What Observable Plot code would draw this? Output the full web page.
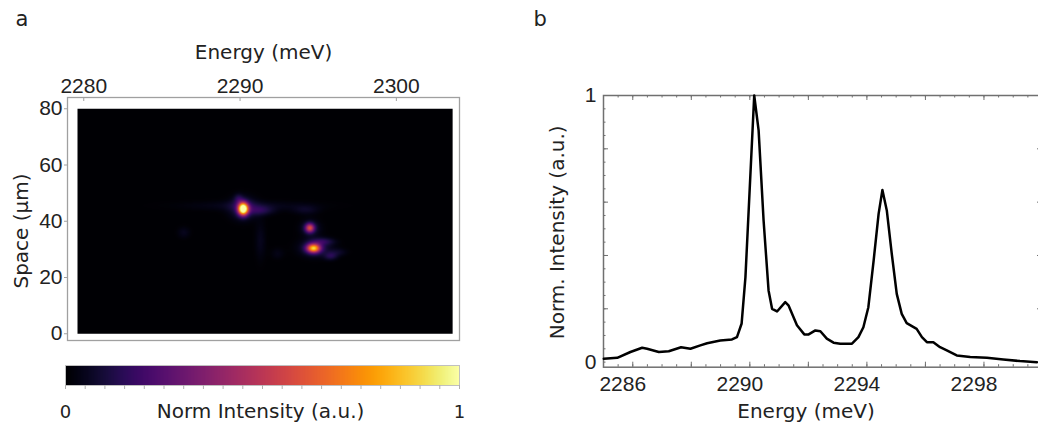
<!DOCTYPE html>
<html><head><meta charset="utf-8">
<script src="https://cdn.jsdelivr.net/npm/d3@7"></script>
<script src="https://cdn.jsdelivr.net/npm/@observablehq/plot@0.6"></script>
<style>
html,body{margin:0;padding:0;background:#fff;overflow:hidden;}
#root{position:relative;width:1038px;height:427px;overflow:hidden;background:#fff;}
#root > svg{position:absolute;}
</style></head><body><div id="root"></div>
<script>
// ---------- Panel a: spectral image (emission spots) ----------
const heatTicksX = [2280, 2290, 2300];
const heatTicksY = [0, 20, 40, 60, 80];
const heatExtentE = [2279.6, 2303.6];
const heatExtentS = [0, 80];
const spotEnergy = [2290.2, 2290.2, 2291.3, 2290.5, 2294.46, 2294.5, 2294.7, 2294.8, 2295.3, 2295.8, 2296.3, 2291.3, 2289.9, 2286.4, 2294.2, 2292.4];
const spotSpace  = [44.4, 44.6, 43.8, 45.5, 37.6, 37.6, 30.4, 30.5, 32.8, 27.6, 29.0, 33.0, 48.0, 36.0, 44.0, 28.5];
const spotWidthE = [0.22, 0.6, 0.6, 3.0, 0.2, 0.45, 0.3, 0.7, 0.5, 0.3, 0.4, 0.25, 0.2, 0.3, 0.6, 0.3];
const spotWidthS = [1.5, 2.8, 1.2, 1.3, 1.1, 2.0, 1.1, 2.2, 0.9, 1.0, 1.0, 5.0, 1.2, 1.5, 1.2, 1.5];
const spotAmp    = [1.15, 0.14, 0.12, 0.05, 0.5, 0.1, 0.78, 0.13, 0.12, 0.12, 0.06, 0.05, 0.1, 0.05, 0.06, 0.04];

// ---------- Colorbar ----------
const cbTicks = d3.range(0, 1.0001, 0.05);
const cbLabels = [0, 1];

// ---------- Panel b: spectrum ----------
const specEnergy = [2285.01, 2285.47, 2285.92, 2286.32, 2286.49, 2286.89, 2287.23, 2287.65, 2287.97, 2288.31, 2288.54, 2288.99, 2289.39, 2289.56, 2289.72, 2289.85, 2290.15, 2290.30, 2290.47, 2290.64, 2290.76, 2290.93, 2291.21, 2291.32, 2291.61, 2291.86, 2292.01, 2292.24, 2292.41, 2292.63, 2292.86, 2293.09, 2293.49, 2293.71, 2293.88, 2294.05, 2294.23, 2294.40, 2294.53, 2294.68, 2294.85, 2295.02, 2295.19, 2295.36, 2295.70, 2295.88, 2296.05, 2296.27, 2296.50, 2296.73, 2297.07, 2297.53, 2298.10, 2298.66, 2299.23, 2299.81];
const specIntensity = [0.013, 0.016, 0.038, 0.054, 0.05, 0.038, 0.041, 0.056, 0.05, 0.063, 0.071, 0.081, 0.085, 0.094, 0.145, 0.319, 1.0, 0.869, 0.531, 0.269, 0.2, 0.19, 0.225, 0.213, 0.138, 0.104, 0.104, 0.119, 0.116, 0.088, 0.073, 0.069, 0.069, 0.094, 0.131, 0.206, 0.381, 0.556, 0.646, 0.569, 0.406, 0.256, 0.181, 0.146, 0.125, 0.094, 0.075, 0.075, 0.056, 0.044, 0.025, 0.019, 0.016, 0.010, 0.004, 0.0];
const specLabelTicks = [2286, 2290, 2294, 2298];
const specMajorX = d3.range(2286, 2300.01, 2);
const specMinorX = d3.range(2285, 2300.01, 0.5);
const specMajorY = [0.2, 0.4, 0.6, 0.8];
const specMinorY = d3.range(0, 1.0001, 0.05);
const specYLabels = [0, 1];

const root = document.getElementById("root");
const place = (svg, left, top) => { svg.style.left = left + "px"; svg.style.top = top + "px"; root.appendChild(svg); };

function intensity(e, s) {
  let v = 0;
  for (let i = 0; i < spotEnergy.length; i++) {
    const de = (e - spotEnergy[i]) / spotWidthE[i];
    const ds = (s - spotSpace[i]) / spotWidthS[i];
    v += spotAmp[i] * Math.exp(-0.5 * (de * de + ds * ds));
  }
  return Math.min(1, v);
}

const tickFont = "'Liberation Sans', Arial, sans-serif";
const labelFont = "'DejaVu Sans', sans-serif";
const fmt = d => String(d);

// Panel a
const aW = 470, aH = 345, aML = 67, aMR = 11, aMT = 97, aMB = 5;
const aFH = aH - aMT - aMB;
const panelA = Plot.plot({
  width: aW, height: aH,
  marginLeft: aML, marginRight: aMR, marginTop: aMT, marginBottom: aMB,
  x: {domain: [2278.96, 2304.04]},
  y: {domain: [-2.4, 84.0]},
  color: {type: "linear", scheme: "inferno", domain: [0, 1]},
  style: {fontFamily: tickFont, color: "#222", background: "transparent", overflow: "visible"},
  marks: [
    Plot.raster({x1: heatExtentE[0], x2: heatExtentE[1], y1: heatExtentS[0], y2: heatExtentS[1], fill: intensity, pixelSize: 1}),
    Plot.frame({stroke: "#a0a0a0", strokeWidth: 1.3}),
    Plot.tickX(heatTicksX, {x: d => d, insetBottom: aFH - 4, stroke: "#a0a0a0"}),
    Plot.axisX({anchor: "top", ticks: heatTicksX, tickFormat: fmt, tickSize: 0, tickPadding: 5, fontSize: 21, fontFamily: tickFont, label: null, fill: "#222"}),
    Plot.axisY({anchor: "left", ticks: heatTicksY, tickFormat: fmt, tickSize: 3, tickPadding: 2, fontSize: 21, fontFamily: tickFont, label: null, stroke: "#a0a0a0", fill: "#222"}),
    Plot.text(["Energy (meV)"], {frameAnchor: "top", dy: -39, lineAnchor: "bottom", fontSize: 20, fontFamily: labelFont, fill: "#222"}),
    Plot.text(["Space (µm)"], {frameAnchor: "left", textAnchor: "middle", rotate: -90, dx: -40, dy: 12, lineAnchor: "bottom", fontSize: 20, fontFamily: labelFont, fill: "#222"}),
    Plot.text(["a"], {frameAnchor: "top-left", dx: -52, dy: -72, textAnchor: "start", lineAnchor: "bottom", fontSize: 21, fontFamily: labelFont, fill: "#222"})
  ]
});
place(panelA, 0, 0);

// Colorbar
const colorbar = Plot.plot({
  width: 470, height: 82,
  marginLeft: 65, marginRight: 11, marginTop: 20, marginBottom: 42,
  x: {domain: [0, 1], axis: null},
  y: {domain: [0, 1], axis: null},
  color: {type: "linear", scheme: "inferno", domain: [0, 1]},
  style: {fontFamily: labelFont, color: "#222", background: "transparent", overflow: "visible"},
  marks: [
    Plot.raster({x1: 0, x2: 1, y1: 0, y2: 1, width: 394, height: 2, fill: (x, y) => x}),
    Plot.frame({stroke: "#c0c0c0"}),
    Plot.axisX({anchor: "bottom", ticks: cbTicks, tickSize: 4, tickFormat: () => "", stroke: "#b0b0b0", label: null}),
    Plot.text(cbLabels, {x: d => d, text: fmt, frameAnchor: "bottom", dy: 32, lineAnchor: "bottom", fontSize: 18, fontFamily: labelFont, fill: "#222"}),
    Plot.text(["Norm Intensity (a.u.)"], {frameAnchor: "bottom", dx: -2, dy: 32, lineAnchor: "bottom", fontSize: 20, fontFamily: labelFont, fill: "#222"})
  ]
});
place(colorbar, 0, 345);

// Panel b
const spectrum = specEnergy.map((e, i) => ({energy: e, intensity: specIntensity[i]}));
const bW = 522, bH = 427, bML = 83, bMR = 0, bMT = 95, bMB = 60.3;
const bFH = bH - bMT - bMB, bFW = bW - bML - bMR;
const gray = "#707070";
const panelB = Plot.plot({
  width: bW, height: bH,
  marginLeft: bML, marginRight: bMR, marginTop: bMT, marginBottom: bMB,
  x: {domain: [2285, 2300]},
  y: {domain: [-0.019, 1]},
  style: {fontFamily: tickFont, color: "#222", background: "transparent", overflow: "visible"},
  marks: [
    Plot.frame({stroke: gray, strokeWidth: 1.5}),
    Plot.tickX(specMinorX, {x: d => d, insetBottom: bFH - 2.5, stroke: gray}),
    Plot.tickX(specMinorX, {x: d => d, insetTop: bFH - 2.5, stroke: gray}),
    Plot.tickX(specMajorX, {x: d => d, insetBottom: bFH - 5, stroke: gray}),
    Plot.tickX(specMajorX, {x: d => d, insetTop: bFH - 5, stroke: gray}),
    Plot.tickY(specMinorY, {y: d => d, insetRight: bFW - 2.5, stroke: gray}),
    Plot.tickY(specMajorY, {y: d => d, insetRight: bFW - 5, stroke: gray}),
    Plot.tickY(specMinorY, {y: d => d, insetLeft: bFW - 2.5, stroke: gray}),
    Plot.tickY(specMajorY, {y: d => d, insetLeft: bFW - 5, stroke: gray}),
    Plot.line(spectrum, {x: "energy", y: "intensity", stroke: "#000", strokeWidth: 2.5, strokeLinejoin: "round"}),
    Plot.axisY({anchor: "left", ticks: specYLabels, tickFormat: fmt, tickSize: 0, tickPadding: 7, fontSize: 21, fontFamily: tickFont, label: null, fill: "#222"}),
    Plot.axisX({anchor: "bottom", ticks: [], label: null}),
    Plot.text(specLabelTicks, {x: d => d, text: fmt, frameAnchor: "bottom", dx: -10, dy: 23.5, lineAnchor: "bottom", fontSize: 21, fontFamily: tickFont, fill: "#222"}),
    Plot.text(["Energy (meV)"], {frameAnchor: "bottom", dx: -17, dy: 51, lineAnchor: "bottom", fontSize: 20, fontFamily: labelFont, fill: "#222"}),
    Plot.text(["Norm. Intensity (a.u.)"], {frameAnchor: "left", textAnchor: "middle", rotate: -90, dx: -40, dy: 1, lineAnchor: "bottom", fontSize: 20, fontFamily: labelFont, fill: "#222"}),
    Plot.text(["b"], {frameAnchor: "top-left", dx: -70, dy: -70, textAnchor: "start", lineAnchor: "bottom", fontSize: 21, fontFamily: labelFont, fill: "#222"})
  ]
});
place(panelB, 520, 0);
</script></body></html>
